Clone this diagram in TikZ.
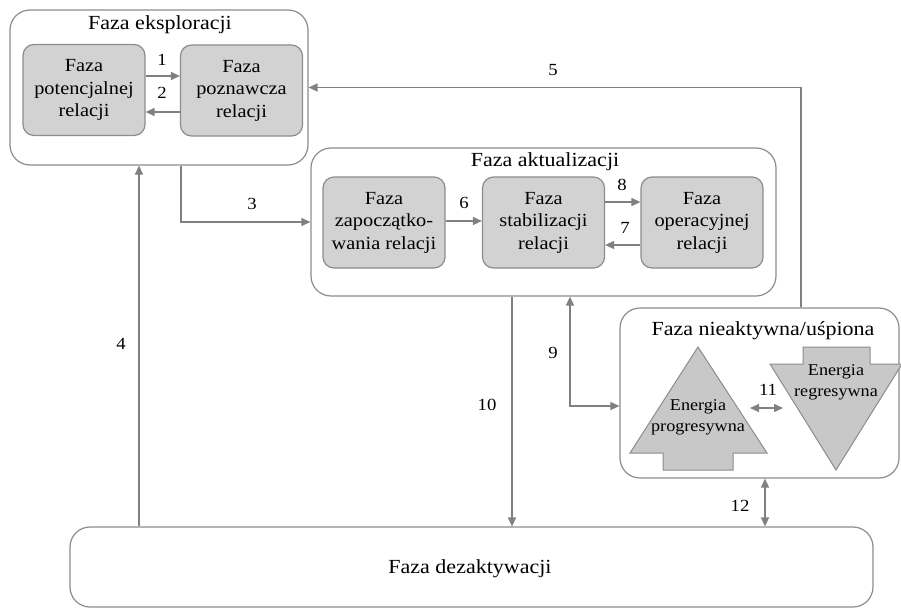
\documentclass[tikz,border=0pt]{standalone}
\usepackage{fontspec}
\setmainfont{Liberation Serif}[FakeStretch=1.1]
\usetikzlibrary{arrows.meta}
\definecolor{edgegray}{RGB}{140,140,140}
\definecolor{linegray}{RGB}{128,128,128}
\definecolor{phasefill}{RGB}{210,210,210}
\definecolor{energyfill}{RGB}{200,200,200}
\begin{document}
\begin{tikzpicture}[x=1pt,y=-1pt,
  outerbox/.style={draw=edgegray,line width=1.2pt,rounded corners=20pt,fill=white,inner sep=0pt},
  phasebox/.style={draw=edgegray,line width=1.2pt,rounded corners=11pt,fill=phasefill,
    minimum width=122pt,minimum height=91pt,align=center,inner sep=2pt,
    font=\fontsize{18.5}{22.5}\selectfont},
  title/.style={font=\fontsize{20}{24}\selectfont,inner sep=0pt},
  num/.style={font=\fontsize{17}{20}\selectfont,inner sep=0pt},
  arr/.style={draw=linegray,line width=1.3pt,-{Triangle[length=9pt,width=8pt]}},
  darr/.style={draw=linegray,line width=1.3pt,{Triangle[length=9pt,width=8pt]}-{Triangle[length=9pt,width=8pt]}},
  energy/.style={draw=edgegray,line width=1pt,fill=energyfill,line join=miter},
  energytext/.style={align=center,font=\fontsize{16.5}{21}\selectfont,inner sep=0pt}]
\useasboundingbox (0,0) rectangle (901,608);

% outer phase containers
\node[outerbox,minimum width=298pt,minimum height=155pt] (explo) at (159,87.5) {};
\node[outerbox,minimum width=465pt,minimum height=148pt] (aktu) at (543.5,222) {};
\node[outerbox,minimum width=279pt,minimum height=170pt] (nieak) at (759.5,393) {};
\node[outerbox,minimum width=803pt,minimum height=80pt] (dez) at (471.5,567) {};

% container titles
\node[title] (texplo) at (160,25) {Faza eksploracji};
\node[title] (taktu) at (545,162) {Faza aktualizacji};
\node[title] (tnieak) at (763,331) {Faza nieaktywna/uśpiona};
\node[title] (tdez) at (470,569) {Faza dezaktywacji};

% exploration sub-phases
\node[phasebox] (pot) at (84,90) {Faza\\potencjalnej\\relacji};
\node[phasebox] (pozn) at (241.5,90.5) {Faza\\poznawcza\\relacji};

% actualisation sub-phases
\node[phasebox] (zap) at (384,222.5) {Faza\\zapoczątko-\\wania relacji};
\node[phasebox] (stab) at (543.5,222.5) {Faza\\stabilizacji\\relacji};
\node[phasebox] (oper) at (702,222.5) {Faza\\operacyjnej\\relacji};

% progressive and regressive energy arrows
\draw[energy] (698,347) -- (767,453) -- (733,453) -- (733,470) -- (663,470)
  -- (663,453) -- (630,453) -- cycle;
\draw[energy] (803,347) -- (870,347) -- (870,364) -- (902,364) -- (836,470)
  -- (770,364) -- (803,364) -- cycle;
\node[energytext] (prog) at (698,417.5) {Energia\\progresywna};
\node[energytext] (regr) at (836,382.5) {Energia\\regresywna};
\coordinate (progR) at (750,408);
\coordinate (regrL) at (783,408);

% transitions
\draw[arr] (pot.east |- 0,76) -- (pozn.west |- 0,76);
\draw[arr] (pozn.west |- 0,112) -- (pot.east |- 0,112);
\draw[arr] (explo.south -| 181,0) |- (aktu.west);
\draw[arr] (dez.north -| 139,0) -- (explo.south -| 139,0);
\draw[arr] (nieak.north -| 801,0) |- (explo.east);
\draw[arr] (zap.east |- 0,221) -- (stab.west |- 0,221);
\draw[arr] (stab.east |- 0,202) -- (oper.west |- 0,202);
\draw[arr] (oper.west |- 0,245) -- (stab.east |- 0,245);
\draw[darr] (aktu.south -| 570,0) |- (nieak.west |- 0,406);
\draw[arr] (aktu.south -| 512,0) -- (dez.north -| 512,0);
\draw[darr] (progR) -- (regrL);
\draw[darr] (nieak.south -| 765,0) -- (dez.north -| 765,0);

% transition numbers
\node[num] (n1) at (162,60) {1};
\node[num] (n2) at (162,93) {2};
\node[num] (n3) at (252,204) {3};
\node[num] (n4) at (121,344) {4};
\node[num] (n5) at (553,70) {5};
\node[num] (n6) at (464,203) {6};
\node[num] (n7) at (625,228) {7};
\node[num] (n8) at (622,185) {8};
\node[num] (n9) at (553,353) {9};
\node[num] (n10) at (487,405) {10};
\node[num] (n11) at (768,390) {11};
\node[num] (n12) at (740,506) {12};
\end{tikzpicture}
\end{document}
